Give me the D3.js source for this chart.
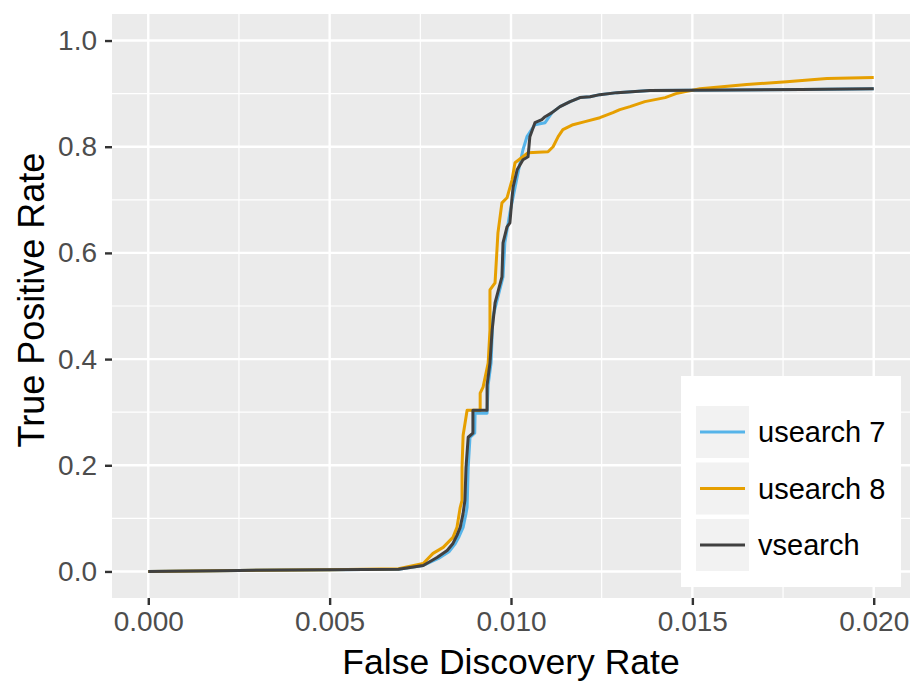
<!DOCTYPE html>
<html lang="en">

<head>
    <meta charset="utf-8">
    <title>FDR vs TPR</title>
    <style media="screen" type="text/css">
        body {
            margin: 0;
            background-color: white;
        }
        text {
            font-family: "Liberation Sans", Arial, sans-serif;
        }
    </style>
</head>

<body>
    <svg id="chart"></svg>
    <script src="https://cdn.jsdelivr.net/npm/d3@7"></script>
    <script>
        // series, as [false discovery rate, true positive rate]
        var usearch7 = [
            [0, 0], [0.0025, 0.002], [0.005, 0.003], [0.0069, 0.004], [0.00758, 0.0113],
            [0.008, 0.0245], [0.0083, 0.0378], [0.00845, 0.0509], [0.00857, 0.066], [0.00868, 0.083],
            [0.00876, 0.1094], [0.00879, 0.1208], [0.00882, 0.1962], [0.00887, 0.2528], [0.009, 0.2604],
            [0.00901, 0.2981], [0.00934, 0.2981], [0.00937, 0.3509], [0.00945, 0.3925], [0.0095, 0.4792],
            [0.00964, 0.517], [0.00978, 0.5547], [0.00983, 0.6189], [0.00997, 0.6755], [0.01006, 0.7057],
            [0.01025, 0.7698], [0.01033, 0.7943], [0.01044, 0.8189], [0.01066, 0.8415], [0.01094, 0.8453],
            [0.01113, 0.8642], [0.01135, 0.8755], [0.01163, 0.8849], [0.0119, 0.8925], [0.01218, 0.8943],
            [0.01245, 0.8981], [0.01292, 0.9019], [0.01383, 0.9057], [0.016, 0.907], [0.018, 0.908],
            [0.02, 0.909]
        ];
        var usearch8 = [
            [0, 0], [0.0025, 0.002], [0.005, 0.003], [0.0069, 0.005], [0.00758, 0.0151],
            [0.00785, 0.034], [0.00813, 0.0453], [0.0084, 0.0642], [0.00851, 0.083], [0.0086, 0.1208],
            [0.00865, 0.134], [0.00865, 0.1962], [0.00868, 0.2566], [0.00879, 0.3038], [0.00915, 0.3038],
            [0.00915, 0.3358], [0.00923, 0.3472], [0.00937, 0.3925], [0.00942, 0.4547], [0.00942, 0.5302],
            [0.00956, 0.5434], [0.00964, 0.6377], [0.00975, 0.6943], [0.00989, 0.7038], [0.01003, 0.7377],
            [0.01011, 0.7698], [0.01047, 0.7887], [0.01102, 0.7906], [0.01116, 0.8], [0.0113, 0.8189],
            [0.01143, 0.8321], [0.01171, 0.8415], [0.01204, 0.8472], [0.01245, 0.8547], [0.01281, 0.8642],
            [0.013, 0.8698], [0.01328, 0.8755], [0.01369, 0.8849], [0.01425, 0.8925], [0.01455, 0.9],
            [0.01521, 0.9094], [0.0165, 0.917], [0.0176, 0.9226], [0.01871, 0.9283], [0.02, 0.9302]
        ];
        var vsearch = [
            [0, 0], [0.0025, 0.002], [0.005, 0.003], [0.0069, 0.004], [0.00758, 0.0113],
            [0.00796, 0.0264], [0.00824, 0.0396], [0.0084, 0.0528], [0.00851, 0.0679], [0.0086, 0.083],
            [0.00868, 0.1094], [0.00873, 0.134], [0.00876, 0.1962], [0.00882, 0.2528], [0.00895, 0.2604],
            [0.00895, 0.3038], [0.00934, 0.3038], [0.00934, 0.3509], [0.00942, 0.3925], [0.00948, 0.4547],
            [0.00956, 0.5057], [0.00964, 0.5264], [0.00975, 0.5547], [0.00978, 0.6189], [0.00989, 0.6491],
            [0.00997, 0.6566], [0.01003, 0.7057], [0.01006, 0.7245], [0.01017, 0.7566], [0.01033, 0.7755],
            [0.01047, 0.7811], [0.01052, 0.8189], [0.01066, 0.8453], [0.01085, 0.8509], [0.01094, 0.8566],
            [0.01113, 0.8642], [0.01135, 0.8755], [0.01163, 0.8849], [0.0119, 0.8925], [0.01218, 0.8943],
            [0.01245, 0.8981], [0.01292, 0.9019], [0.01383, 0.9057], [0.016, 0.907], [0.018, 0.908],
            [0.02, 0.909]
        ];

        var seriesNames = ["usearch 7", "usearch 8", "vsearch"];
        var seriesColors = ["#56B4E9", "#E69F00", "#404040"];
        var xTicks = [0, 0.005, 0.01, 0.015, 0.02];
        var xMinor = [0.0025, 0.0075, 0.0125, 0.0175];
        var yTicks = [0, 0.2, 0.4, 0.6, 0.8, 1.0];
        var yMinor = [0.1, 0.3, 0.5, 0.7, 0.9];

        var w = 910;
        var h = 681;
        var panel = { left: 112, top: 14, right: 910, bottom: 598 };

        var svg = d3.select("#chart")
            .attr("width", w)
            .attr("height", h);

        // ggplot style expansion of 5 % on each side
        var x = d3.scaleLinear()
            .domain([-0.001, 0.021])
            .range([panel.left, panel.right]);
        var y = d3.scaleLinear()
            .domain([-0.05, 1.05])
            .range([panel.bottom, panel.top]);

        svg.append("rect")
            .attr("x", panel.left)
            .attr("y", panel.top)
            .attr("width", panel.right - panel.left)
            .attr("height", panel.bottom - panel.top)
            .attr("fill", "#EBEBEB");

        // grid: minor then major
        svg.selectAll("line.xminor")
            .data(xMinor)
            .enter()
            .append("line")
            .attr("x1", function(d) { return x(d); })
            .attr("x2", function(d) { return x(d); })
            .attr("y1", panel.top)
            .attr("y2", panel.bottom)
            .attr("stroke", "white")
            .attr("stroke-width", 1.2);
        svg.selectAll("line.yminor")
            .data(yMinor)
            .enter()
            .append("line")
            .attr("y1", function(d) { return y(d); })
            .attr("y2", function(d) { return y(d); })
            .attr("x1", panel.left)
            .attr("x2", panel.right)
            .attr("stroke", "white")
            .attr("stroke-width", 1.2);
        svg.selectAll("line.xmajor")
            .data(xTicks)
            .enter()
            .append("line")
            .attr("x1", function(d) { return x(d); })
            .attr("x2", function(d) { return x(d); })
            .attr("y1", panel.top)
            .attr("y2", panel.bottom)
            .attr("stroke", "white")
            .attr("stroke-width", 2.4);
        svg.selectAll("line.ymajor")
            .data(yTicks)
            .enter()
            .append("line")
            .attr("y1", function(d) { return y(d); })
            .attr("y2", function(d) { return y(d); })
            .attr("x1", panel.left)
            .attr("x2", panel.right)
            .attr("stroke", "white")
            .attr("stroke-width", 2.4);

        // axes
        var xAxis = d3.axisBottom(x)
            .tickValues(xTicks)
            .tickFormat(d3.format(".3f"))
            .tickSize(7)
            .tickPadding(6);
        var yAxis = d3.axisLeft(y)
            .tickValues(yTicks)
            .tickFormat(d3.format(".1f"))
            .tickSize(7)
            .tickPadding(8);

        var gx = svg.append("g")
            .attr("transform", "translate(0," + panel.bottom + ")")
            .call(xAxis);
        var gy = svg.append("g")
            .attr("transform", "translate(" + panel.left + ",0)")
            .call(yAxis);

        [gx, gy].forEach(function(g) {
            g.select(".domain").remove();
            g.selectAll(".tick line")
                .attr("stroke", "#333333")
                .attr("stroke-width", 2.4);
            g.selectAll(".tick text")
                .attr("fill", "#4D4D4D")
                .attr("font-size", "28px")
                .attr("font-family", "Liberation Sans, Arial, sans-serif");
        });

        svg.append("text")
            .attr("x", (panel.left + panel.right) / 2)
            .attr("y", 674)
            .attr("text-anchor", "middle")
            .attr("font-size", "35.5px")
            .attr("fill", "black")
            .text("False Discovery Rate");

        svg.append("text")
            .attr("transform", "translate(44,300) rotate(-90)")
            .attr("text-anchor", "middle")
            .attr("font-size", "36px")
            .attr("fill", "black")
            .text("True Positive Rate");

        // lines
        var line = d3.line()
            .x(function(d) { return x(d[0]); })
            .y(function(d) { return y(d[1]); });

        var allSeries = [usearch7, usearch8, vsearch];

        svg.selectAll("path.series")
            .data(allSeries)
            .enter()
            .append("path")
            .attr("class", "series")
            .attr("d", line)
            .attr("fill", "none")
            .attr("stroke", function(d, i) { return seriesColors[i]; })
            .attr("stroke-width", 3)
            .attr("stroke-linejoin", "round");

        // legend
        var legend = svg.append("g")
            .attr("transform", "translate(681,376)");

        legend.append("rect")
            .attr("width", 220)
            .attr("height", 211)
            .attr("fill", "white");

        var keys = legend.selectAll("g.key")
            .data(seriesNames)
            .enter()
            .append("g")
            .attr("class", "key")
            .attr("transform", function(d, i) {
                return "translate(15," + (30 + i * 56.5) + ")";
            });

        keys.append("rect")
            .attr("width", 53)
            .attr("height", 52)
            .attr("fill", "#F2F2F2");

        keys.append("line")
            .attr("x1", 4)
            .attr("x2", 49)
            .attr("y1", 26)
            .attr("y2", 26)
            .attr("stroke", function(d, i) { return seriesColors[i]; })
            .attr("stroke-width", 3);

        keys.append("text")
            .attr("x", 62)
            .attr("y", 26)
            .attr("dy", "0.35em")
            .attr("font-size", "29px")
            .attr("fill", "black")
            .text(function(d) { return d; });
    </script>
</body>

</html>
